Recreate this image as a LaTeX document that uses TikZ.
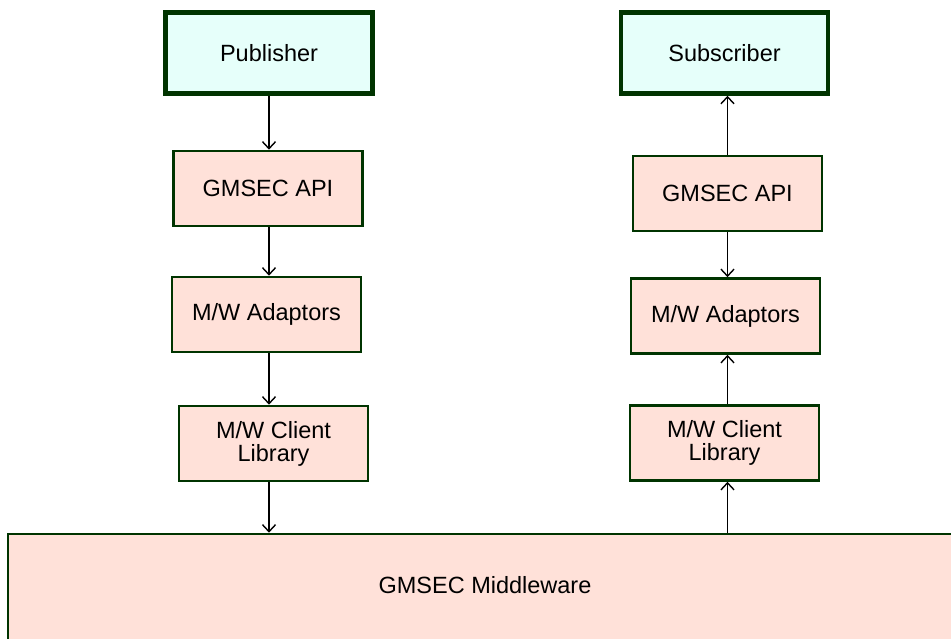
\documentclass[tikz,border=0pt]{standalone}
\usepackage{fontspec}
\setmainfont{Liberation Sans}
\usetikzlibrary{shapes,arrows.meta}

\definecolor{boxgreen}{RGB}{0,52,0}
\definecolor{boxpink}{RGB}{255,225,217}
\definecolor{boxcyan}{RGB}{230,255,250}

\begin{document}
\begin{tikzpicture}[x=1pt, y=-1pt,
    every node/.style={font=\fontsize{23.5}{23}\selectfont, align=center},
    client/.style={draw=boxgreen, line width=4.5pt, fill=boxcyan, rectangle, minimum width=207pt, minimum height=81pt},
    layer/.style={draw=boxgreen, line width=2.6pt, fill=boxpink, rectangle, minimum width=189pt, minimum height=75pt},
    flow/.style={-{Straight Barb[length=7pt,width=13pt,line width=1.4pt]}, line width=1.5pt, black}]
  \useasboundingbox (0,0) rectangle (951,639);

  \node[layer, text height=59pt, text depth=100pt, inner sep=0pt, minimum width=954pt, anchor=base] (mw) at (485,593) {GMSEC Middleware};

  \node[client] (pub) at (269,53) {Publisher};
  \node[layer] (apiL) at (268,188.5) {GMSEC API};
  \node[layer] (adaL) at (266.5,314.5) {M/W Adaptors};
  \node[layer] (libL) at (273.5,443.5) {M/W Client\\Library};

  \node[client] (sub) at (724.5,53) {Subscriber};
  \node[layer] (apiR) at (727.5,193.5) {GMSEC API};
  \node[layer] (adaR) at (725.5,316) {M/W Adaptors};
  \node[layer] (libR) at (724.5,443) {M/W Client\\Library};

  \draw[flow] (pub.south) -- (pub.south |- apiL.north);
  \draw[flow] (apiL.south -| pub.south) -- (adaL.north -| pub.south);
  \draw[flow] (adaL.south -| pub.south) -- (libL.north -| pub.south);
  \draw[flow] (libL.south -| pub.south) -- (mw.north -| pub.south);

  \draw[flow] (apiR.north) -- (apiR.north |- sub.south);
  \draw[flow] (apiR.south) -- (apiR.south |- adaR.north);
  \draw[flow] (libR.north -| apiR.north) -- (adaR.south -| apiR.north);
  \draw[flow] (mw.north -| apiR.north) -- (libR.south -| apiR.north);
\end{tikzpicture}
\end{document}
